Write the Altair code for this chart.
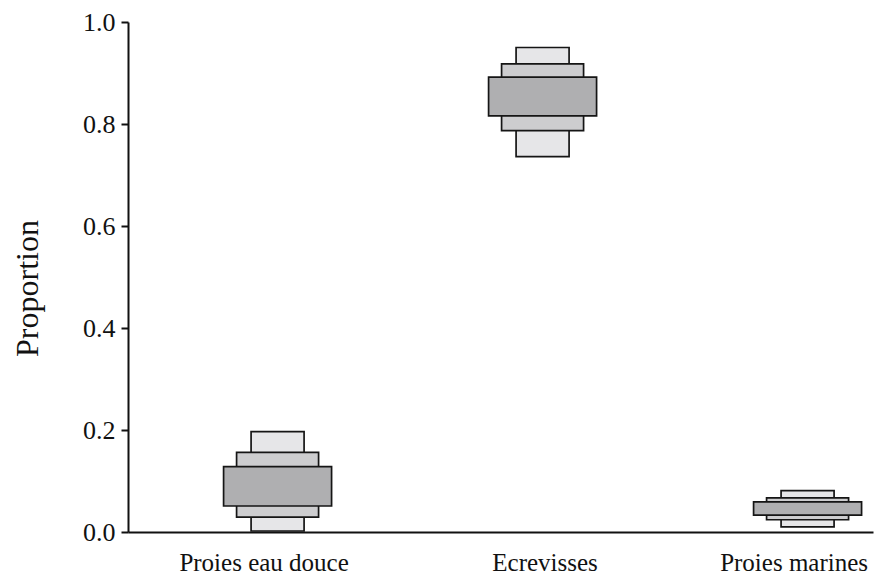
import altair as alt
import pandas as pd

categories = ["Proies eau douce", "Ecrevisses", "Proies marines"]
positions = [1, 2, 3]

# credibility intervals (lo, hi) per level
ci95_lo = [0.002, 0.736, 0.010]
ci95_hi = [0.197, 0.950, 0.081]
ci75_lo = [0.029, 0.787, 0.024]
ci75_hi = [0.156, 0.918, 0.067]
ci50_lo = [0.051, 0.816, 0.033]
ci50_hi = [0.128, 0.892, 0.059]

y_ticks = [0.0, 0.2, 0.4, 0.6, 0.8, 1.0]

FONT = "Times New Roman, Liberation Serif, Times, serif"

def frame(lo, hi):
    return pd.DataFrame({"cat": categories, "pos": positions, "lo": lo, "hi": hi})

x_scale = alt.Scale(domain=[0.4544, 3.228], nice=False, zero=False)
y_scale = alt.Scale(domain=[0, 1], nice=False)

label_map = " : ".join(
    [f"datum.value == {p} ? '{c}'" for p, c in zip(positions, categories)]
) + " : ''"

x_axis = alt.Axis(
    values=positions, labelExpr=label_map, ticks=False, grid=False, title=None,
    domainColor="#111111", domainWidth=2, labelFont=FONT, labelFontSize=25,
    labelColor="#111111", labelBaseline="alphabetic", labelPadding=38,
    labelOffset={"condition": {"test": "datum.value == 2", "value": 2}, "value": -14},
    labelFlush=False, labelOverlap=False,
)
y_axis = alt.Axis(
    values=y_ticks, format=".1f", grid=False, title="Proportion",
    domainColor="#111111", domainWidth=2, tickColor="#111111", tickWidth=2,
    tickSize=7, labelFont=FONT, labelFontSize=26, labelColor="#111111",
    labelPadding=6, titleFont=FONT, titleFontSize=32, titleFontWeight="normal",
    titleColor="#111111", titleX=-101, titleY=266, titleAngle=-90,
    titleAlign="center", titleBaseline="middle", labelFlush=False,
)

def layer(lo, hi, w, fill):
    return alt.Chart(frame(lo, hi)).mark_bar(
        width=w, orient="vertical", fill=fill, stroke="#151515", strokeWidth=1.7
    ).encode(
        x=alt.X("pos:Q", scale=x_scale, axis=x_axis),
        y=alt.Y("lo:Q", scale=y_scale, axis=y_axis),
        y2="hi:Q",
    )

chart = alt.layer(
    layer(ci95_lo, ci95_hi, 53, "#e6e6e8"),
    layer(ci75_lo, ci75_hi, 82, "#cdcdcf"),
    layer(ci50_lo, ci50_hi, 108, "#afafb1"),
).properties(
    width=745, height=510,
    autosize=alt.AutoSizeParams(type="none"),
    padding={"left": 120, "top": 14, "right": 6, "bottom": 42},
).configure(background="white").configure_view(stroke=None)

chart.save("out.html", embed_options={"renderer": "svg", "actions": False})
